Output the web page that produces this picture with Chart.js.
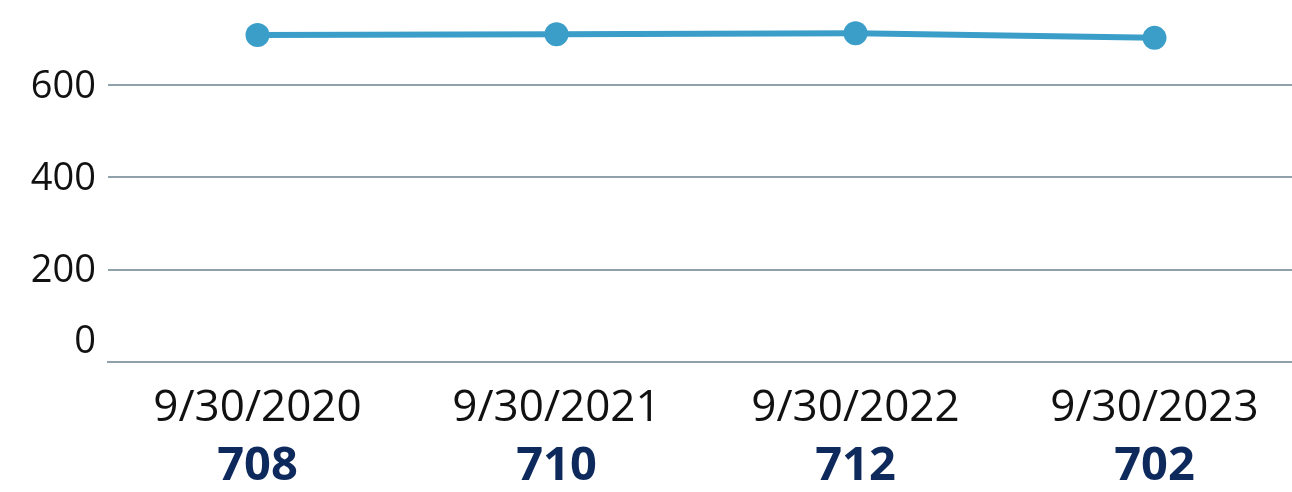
<!DOCTYPE html>
<html lang="en">
  <head>
    <meta charset="UTF-8" />
    <title>Chart</title>
    <style>
      * {
        margin: 0;
        padding: 0;
      }
      body {
        width: 1292px;
        height: 492px;
        overflow: hidden;
        background: white;
      }
    </style>
  </head>
  <body>
    <canvas id="myChart" width="1304" height="492"></canvas>

    <script src="https://cdn.jsdelivr.net/npm/chart.js"></script>
    <script>
      const dates = ["9/30/2020", "9/30/2021", "9/30/2022", "9/30/2023"];
      const counts = [708, 710, 712, 702];
      const yTicks = [0, 200, 400, 600];

      const fontFamily = "'Open Sans', 'Noto Sans', sans-serif";
      const gridColor = "#8fa1ab";

      // y labels + bold values under the dates
      const labelsPlugin = {
        id: "labels",
        afterDraw(chart) {
          const ctx = chart.ctx;
          const y = chart.scales.y;
          const x = chart.scales.x;
          const area = chart.chartArea;
          ctx.save();
          ctx.font = "38px " + fontFamily;
          ctx.fillStyle = "#111";
          ctx.textAlign = "right";
          ctx.textBaseline = "middle";
          yTicks.forEach((v) => {
            let py = y.getPixelForValue(v);
            if (py > area.bottom - 20) py = area.bottom - 22;
            ctx.fillText(v, area.left - 12, py + 2);
          });

          ctx.font = "bold 47px " + fontFamily;
          ctx.fillStyle = "#0e2a5c";
          ctx.textAlign = "center";
          counts.forEach((v, i) => {
            ctx.fillText(v, x.getPixelForValue(i), 467);
          });
          ctx.restore();
        },
      };

      const ctx = document.getElementById("myChart");
      new Chart(ctx, {
        type: "line",
        data: {
          labels: dates,
          datasets: [
            {
              data: counts,
              borderColor: "#3b9ec9",
              backgroundColor: "#3b9ec9",
              borderWidth: 6,
              pointRadius: 12,
              pointHoverRadius: 12,
              pointBorderWidth: 0,
              tension: 0,
              clip: false,
            },
          ],
        },
        options: {
          responsive: false,
          animation: false,
          layout: { padding: 0, autoPadding: false },
          plugins: {
            legend: { display: false },
            tooltip: { enabled: false },
          },
          scales: {
            x: {
              offset: true,
              grid: { display: false, drawTicks: false },
              border: { display: true, color: gridColor, width: 2 },
              ticks: {
                color: "#111",
                font: { family: fontFamily, size: 44 },
                padding: 20,
                maxRotation: 0,
              },
              afterFit(scale) {
                scale.height = 130;
              },
            },
            y: {
              min: 0,
              max: 784,
              afterBuildTicks(scale) {
                scale.ticks = yTicks.map((v) => ({ value: v }));
              },
              ticks: { display: false },
              grid: { color: gridColor, lineWidth: 2, drawTicks: false },
              border: { display: false },
              afterFit(scale) {
                scale.width = 108;
              },
            },
          },
        },
        plugins: [labelsPlugin],
      });
    </script>
  </body>
</html>
